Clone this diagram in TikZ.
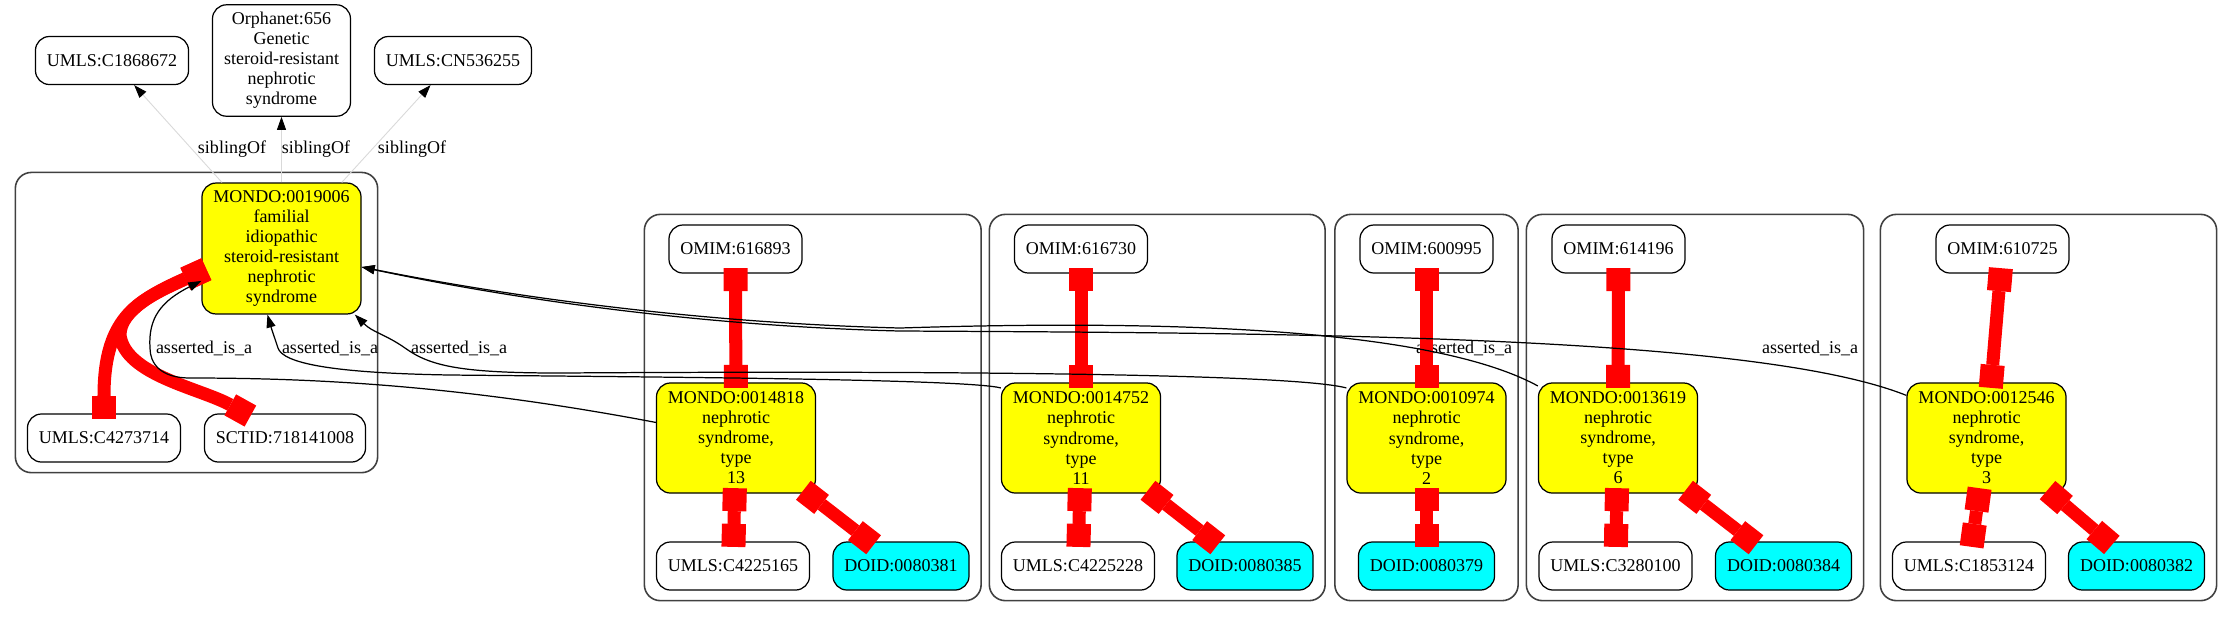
\documentclass[tikz,border=0pt]{standalone}
\usepackage{fontspec}
\setmainfont{Liberation Serif}
\usetikzlibrary{arrows.meta, fit}
\definecolor{gvyellow}{RGB}{255,255,0}
\definecolor{gvcyan}{RGB}{0,255,255}
\definecolor{gvred}{RGB}{255,0,0}

\begin{document}
\begin{tikzpicture}[
  x=0.01cm, y=-0.01cm,
  font=\fontsize{5.12pt}{5.69pt}\selectfont,
  term/.style={draw, line width=0.35pt, rounded corners=0.14cm, align=center, inner xsep=0.115cm, inner ysep=0.075cm, minimum height=0.48cm},
  mondo/.style={term, fill=gvyellow, minimum height=1.1cm},
  doid/.style={term, fill=gvcyan},
  grp/.style={draw=black!75, line width=0.45pt, rounded corners=0.16cm, inner xsep=0.115cm, inner ysep=0.1cm},
  xref/.style={draw=gvred, line width=0.13cm, {Square[length=0.23cm, width=0.24cm, line width=0pt]}-{Square[length=0.23cm, width=0.24cm, line width=0pt]}, shorten <=-0.055cm, shorten >=-0.055cm},
  isa/.style={draw, line width=0.35pt, -{Triangle[length=0.13cm, width=0.09cm]}},
  sib/.style={draw=black!15, line width=0.25pt, -{Triangle[length=0.13cm, width=0.09cm, color=black]}},
  lbl/.style={inner sep=0pt}
]
\fill[white] (0,0) rectangle (2232,617);
\useasboundingbox (0,0) rectangle (2232,617);

% siblings on top
\node[term] (umlsA) at (112,60.5) {UMLS:C1868672};
\node[term] (orpha) at (281.5,60.5) {Orphanet:656\\Genetic\\steroid-resistant\\nephrotic\\syndrome};
\node[term] (umlsB) at (453,60.5) {UMLS:CN536255};

% familial idiopathic SRNS
\node[mondo] (fsrns) at (281.5,248.5) {MONDO:0019006\\familial\\idiopathic\\steroid-resistant\\nephrotic\\syndrome};
\node[term] (umlsC) at (104,438) {UMLS:C4273714};
\node[term] (sctid) at (285,438) {SCTID:718141008};

% type 13
\node[term] (omim13) at (735.5,249) {OMIM:616893};
\node[mondo] (ns13) at (736,438) {MONDO:0014818\\nephrotic\\syndrome,\\type\\13};
\node[term] (umls13) at (733,566) {UMLS:C4225165};
\node[doid] (doid13) at (901,566) {DOID:0080381};

% type 11
\node[term] (omim11) at (1081,249) {OMIM:616730};
\node[mondo] (ns11) at (1081,438) {MONDO:0014752\\nephrotic\\syndrome,\\type\\11};
\node[term] (umls11) at (1078,566) {UMLS:C4225228};
\node[doid] (doid11) at (1245,566) {DOID:0080385};

% type 2
\node[term] (omim2) at (1426.5,249) {OMIM:600995};
\node[mondo] (ns2) at (1426.5,438) {MONDO:0010974\\nephrotic\\syndrome,\\type\\2};
\node[doid] (doid2) at (1426.5,566) {DOID:0080379};

% type 6
\node[term] (omim6) at (1618.5,249) {OMIM:614196};
\node[mondo] (ns6) at (1618,438) {MONDO:0013619\\nephrotic\\syndrome,\\type\\6};
\node[term] (umls6) at (1615.5,566) {UMLS:C3280100};
\node[doid] (doid6) at (1783.5,566) {DOID:0080384};

% type 3
\node[term] (omim3) at (2002.5,249) {OMIM:610725};
\node[mondo] (ns3) at (1986.5,438) {MONDO:0012546\\nephrotic\\syndrome,\\type\\3};
\node[term] (umls3) at (1969,566) {UMLS:C1853124};
\node[doid] (doid3) at (2136.5,566) {DOID:0080382};

% clusters
\node[grp, fit=(fsrns)(umlsC)(sctid)] (grpA) {};
\node[grp, fit=(omim13)(ns13)(umls13)(doid13)] (grp13) {};
\node[grp, fit=(omim11)(ns11)(umls11)(doid11)] (grp11) {};
\node[grp, fit=(omim2)(ns2)(doid2)] (grp2) {};
\node[grp, fit=(omim6)(ns6)(umls6)(doid6)] (grp6) {};
\node[grp, fit=(omim3)(ns3)(umls3)(doid3)] (grp3) {};

% edge labels
\node[lbl] (sibA) at (232,149) {siblingOf};
\node[lbl] (sibB) at (316,149) {siblingOf};
\node[lbl] (sibC) at (412,149) {siblingOf};
\node[lbl] (isaA) at (204,348) {asserted\_is\_a};
\node[lbl] (isaB) at (330,348) {asserted\_is\_a};
\node[lbl] (isaC) at (459,348) {asserted\_is\_a};
\node[lbl] (isaD) at (1464,348) {asserted\_is\_a};
\node[lbl] (isaE) at (1810,348) {asserted\_is\_a};

% siblingOf
\draw[sib] (fsrns) -- (umlsA);
\draw[sib] (fsrns) -- (orpha);
\draw[sib] (fsrns) -- (umlsB);

% cross references
\draw[xref] (umlsC.north) .. controls +(0,-100) and +(-60,28) .. (fsrns.196);
\draw[xref] (sctid.148) .. controls +(-45,-25) and +(5,40) .. (120,335)
  .. controls +(0,-25) and +(-45,20) .. (fsrns.196);
\draw[xref] (omim13) -- (ns13);
\draw[xref] (ns13) -- (umls13);
\draw[xref] (ns13) -- (doid13);
\draw[xref] (omim11) -- (ns11);
\draw[xref] (ns11) -- (umls11);
\draw[xref] (ns11) -- (doid11);
\draw[xref] (omim2) -- (ns2);
\draw[xref] (ns2) -- (doid2);
\draw[xref] (omim6) -- (ns6);
\draw[xref] (ns6) -- (umls6);
\draw[xref] (ns6) -- (doid6);
\draw[xref] (omim3) -- (ns3);
\draw[xref] (ns3) -- (umls3);
\draw[xref] (ns3) -- (doid3);

% asserted_is_a
\draw[isa] (ns13.169) .. controls +(-200,-38) and +(120,0) .. (190,378)
  .. controls +(-30,0) and +(0,15) .. (150,348)
  .. controls +(-2,-30) and +(-40,20) .. (fsrns.202);
\draw[isa] (ns11.148) .. controls +(-35,-9) and +(200,2) .. (450,375)
  .. controls +(-120,-2) and +(5,15) .. (278,348)
  .. controls +(-4,-12) and +(4,14) .. (fsrns.258);
\draw[isa] (ns2.148) .. controls +(-60,-16) and +(300,-2) .. (560,373)
  .. controls +(-100,0) and +(25,18) .. (405,348)
  .. controls +(-20,-14) and +(18,18) .. (fsrns.318);
\draw[isa] (ns6.147) .. controls +(-110,-60) and +(250,-8) .. (900,328)
  .. controls +(-200,-5) and +(150,30) .. (fsrns.347);
\draw[isa] (ns3.152) .. controls +(-150,-60) and +(400,2) .. (900,331)
  .. controls +(-200,-5) and +(150,32) .. (fsrns.347);
\end{tikzpicture}
\end{document}
